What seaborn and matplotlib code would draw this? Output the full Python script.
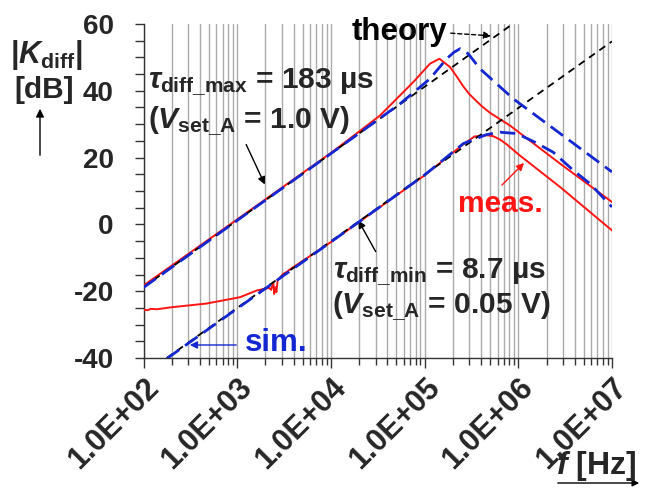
import numpy as np
import pandas as pd
import matplotlib
matplotlib.use("Agg")
import matplotlib.pyplot as plt
import matplotlib.ticker as mticker
import seaborn as sns

# ---------------- data ----------------
# theory lines (straight in log-f): endpoints
theory_max_f = [1e2, 8.7e5]
theory_max_db = [-18.8, 60.0]
theory_min_f = [1.77e2, 1e7]
theory_min_db = [-40.0, 54.8]

# simulation (blue dashed)
sim_max_f = [1e2, 1e3, 1e4, 5.46e4, 1.14e5, 1.72e5, 2.05e5, 2.39e5, 2.92e5, 3.9e5, 8.85e5, 1e7]
sim_max_db = [-18.9, 1.2, 21.2, 36.1, 43.6, 49.6, 51.5, 52.6, 51.1, 46.6, 37.6, 15.7]
sim_min_f = [1.77e2, 1e3, 1e4, 1e5, 2.59e5, 4.6e5, 6.38e5, 9.6e5, 1.51e6, 2.36e6, 3.86e6, 5.82e6, 1e7]
sim_min_db = [-40.2, -25.2, -5.25, 14.8, 24.2, 26.9, 27.6, 27.2, 24.6, 21.6, 16.2, 12.2, 5.2]

# measurement (red solid)
meas_max_f = [1e2, 1e3, 1e4, 2e4, 3.34e4, 7.57e4, 1.14e5, 1.44e5, 1.87e5, 2.2e5, 2.59e5, 3e5,
              4e5, 4.99e5, 8.15e5, 2.79e6, 1e7]
meas_max_db = [-18.3, 1.5, 21.4, 27.8, 32.6, 42.6, 48.1, 49.6, 47.1, 44.3, 41.3, 39.0,
               35.6, 33.4, 29.6, 18.2, 6.7]
meas_min_f = [1e2, 1.1e2, 1.2e2, 1.4e2, 2e2, 4.7e2, 1.07e3, 1.61e3, 2.2e3, 2.3e3, 2.43e3, 2.48e3,
              2.55e3, 2.62e3, 2.7e3, 3.1e3, 3.4e3, 3.6e3, 1e4, 1e5, 2.59e5, 3.4e5, 4.6e5,
              5.4e5, 6.3e5, 7.5e5, 1e6, 2.79e6, 1e7]
meas_min_db = [-25.5, -25.7, -25.3, -25.4, -24.8, -23.7, -21.8, -19.8, -19.0, -19.6, -17.3, -20.8,
               -18.8, -20.3, -16.8, -14.8, -14.2, -13.6, -5.3, 14.7, 24.0, 26.3, 26.7,
               26.4, 25.5, 24.0, 21.0, 11.2, -1.8]

xtick_vals = [1e2, 1e3, 1e4, 1e5, 1e6, 1e7]
xtick_labels = ["1.0E+02", "1.0E+03", "1.0E+04", "1.0E+05", "1.0E+06", "1.0E+07"]
ytick_vals = [-40, -20, 0, 20, 40, 60]
ytick_labels = ["-40", "-20", "0", "20", "40", "60"]

# ---------------- style ----------------
sns.set_theme(style="white")
plt.rcParams["font.family"] = ["Liberation Sans", "DejaVu Sans"]
plt.rcParams["mathtext.fontset"] = "custom"
plt.rcParams["mathtext.rm"] = "Liberation Sans:bold"
plt.rcParams["mathtext.bf"] = "Liberation Sans:bold"
plt.rcParams["mathtext.it"] = "Liberation Sans:italic:bold"
plt.rcParams["mathtext.sf"] = "Liberation Sans:bold"

W, H = 651, 488
fig = plt.figure(figsize=(W / 100, H / 100), dpi=100)
ax = fig.add_axes([143.5 / W, 1 - 358 / H, (612 - 143.5) / W, (358 - 24) / H])

RED = "#ff1414"
BLUE = "#1428d2"


def frame(f, db, name):
    return pd.DataFrame({"f": f, "dB": db, "series": name})


df_meas_max = frame(meas_max_f, meas_max_db, "meas_max")
df_meas_min = frame(meas_min_f, meas_min_db, "meas_min")
df_th_max = frame(theory_max_f, theory_max_db, "th_max")
df_th_min = frame(theory_min_f, theory_min_db, "th_min")
df_sim_max = frame(sim_max_f, sim_max_db, "sim_max")
df_sim_min = frame(sim_min_f, sim_min_db, "sim_min")

for d in (df_meas_max, df_meas_min):
    sns.lineplot(data=d, x="f", y="dB", ax=ax, color=RED, lw=1.4, sort=False,
                 estimator=None, zorder=3)
for d in (df_th_max, df_th_min):
    sns.lineplot(data=d, x="f", y="dB", ax=ax, color="black", lw=1.3, sort=False,
                 estimator=None, linestyle=(0, (4, 3)), zorder=4)
for d in (df_sim_max, df_sim_min):
    sns.lineplot(data=d, x="f", y="dB", ax=ax, color=BLUE, lw=2.0, sort=False,
                 estimator=None, linestyle=(0, (5.5, 2.6)), zorder=5)

ax.set_xscale("log")
ax.set_xlim(1e2, 1e7)
ax.set_ylim(-40, 60)
ax.set_xlabel("")
ax.set_ylabel("")

for s in ("top", "right"):
    ax.spines[s].set_visible(False)
for s in ("left", "bottom"):
    ax.spines[s].set_color("#333333")
    ax.spines[s].set_linewidth(1.0)

ax.xaxis.set_major_locator(mticker.FixedLocator(xtick_vals))
ax.xaxis.set_minor_locator(mticker.LogLocator(base=10, subs=np.arange(2, 10)))
ax.xaxis.set_minor_formatter(mticker.NullFormatter())
ax.set_xticklabels(xtick_labels, rotation=45, ha="right", va="top",
                   rotation_mode="anchor", fontsize=22, fontweight="bold")
ax.set_yticks(ytick_vals)
ax.set_yticklabels(ytick_labels, fontsize=20, fontweight="bold")
ax.yaxis.set_minor_locator(mticker.MultipleLocator(5))

ax.tick_params(axis="x", which="major", direction="out", length=7.5, width=1.0,
               color="#333333", pad=3, bottom=True)
ax.tick_params(axis="x", which="minor", direction="out", length=5, width=1.0,
               color="#333333", bottom=True)
ax.tick_params(axis="y", which="both", direction="out", length=6.5, width=1.0,
               color="#333333", pad=15, left=True)

ax.grid(False)
ax.grid(True, which="both", axis="x", color="#ababab", lw=1.0, zorder=0)
ax.set_axisbelow(True)


def P(x, y):
    return (x / W, 1 - y / H)


# ---------------- texts ----------------
fig.text(*P(46, 55), r"|$K_{\mathrm{diff}}$|", fontsize=22, fontweight="bold",
         ha="center", va="center")
fig.text(*P(44, 90), "[dB]", fontsize=21.5, fontweight="bold", ha="center", va="center")
ax.annotate("", xy=P(40, 106), xytext=P(40, 158), xycoords="figure fraction",
            textcoords="figure fraction",
            arrowprops=dict(arrowstyle="-|>", color="black", lw=1.0, mutation_scale=12))

fig.text(*P(148, 88), r"$\tau_{\mathrm{diff\_max}}$ = 183 µs", fontsize=21.5,
         fontweight="bold", ha="left", va="baseline")
fig.text(*P(148, 128), r"($V_{\mathrm{set\_A}}$ = 1.0 V)", fontsize=21.5,
         fontweight="bold", ha="left", va="baseline")
fig.text(*P(333, 278), r"$\tau_{\mathrm{diff\_min}}$ = 8.7 µs", fontsize=21.5,
         fontweight="bold", ha="left", va="baseline")
fig.text(*P(332, 313), r"($V_{\mathrm{set\_A}}$ = 0.05 V)", fontsize=21.5,
         fontweight="bold", ha="left", va="baseline")
fig.text(*P(352, 40), "theory", fontsize=22.5, fontweight="bold", color="black",
         ha="left", va="baseline")
fig.text(*P(458, 212), "meas.", fontsize=21.5, fontweight="bold", color=RED,
         ha="left", va="baseline")
fig.text(*P(245, 351), "sim.", fontsize=22.5, fontweight="bold", color=BLUE,
         ha="left", va="baseline")
fig.text(*P(556, 474), r"$f$ [Hz]", fontsize=23, fontweight="bold",
         ha="left", va="baseline")

arrow_kw = dict(xycoords="figure fraction", textcoords="figure fraction")
ax.annotate("", xy=P(266, 187), xytext=P(245, 142), **arrow_kw,
            arrowprops=dict(arrowstyle="-|>", color="black", lw=1.0, mutation_scale=11))
ax.annotate("", xy=P(357, 218), xytext=P(377, 254), **arrow_kw,
            arrowprops=dict(arrowstyle="-|>", color="black", lw=1.0, mutation_scale=11))
ax.annotate("", xy=P(494, 36), xytext=P(448, 33), **arrow_kw,
            arrowprops=dict(arrowstyle="-|>", color="black", lw=1.0, ls=(0, (3, 2)),
                            mutation_scale=11))
ax.annotate("", xy=P(526, 161), xytext=P(500, 187), **arrow_kw,
            arrowprops=dict(arrowstyle="-|>", color=RED, lw=1.0, mutation_scale=11))
ax.annotate("", xy=P(187, 345), xytext=P(239, 345), **arrow_kw,
            arrowprops=dict(arrowstyle="-|>", color=BLUE, lw=1.0, mutation_scale=11))
ax.annotate("", xy=P(642, 483), xytext=P(555, 483), **arrow_kw,
            arrowprops=dict(arrowstyle="-|>", color="black", lw=1.0, mutation_scale=10))

fig.savefig("out.png", dpi=100, facecolor="white")
